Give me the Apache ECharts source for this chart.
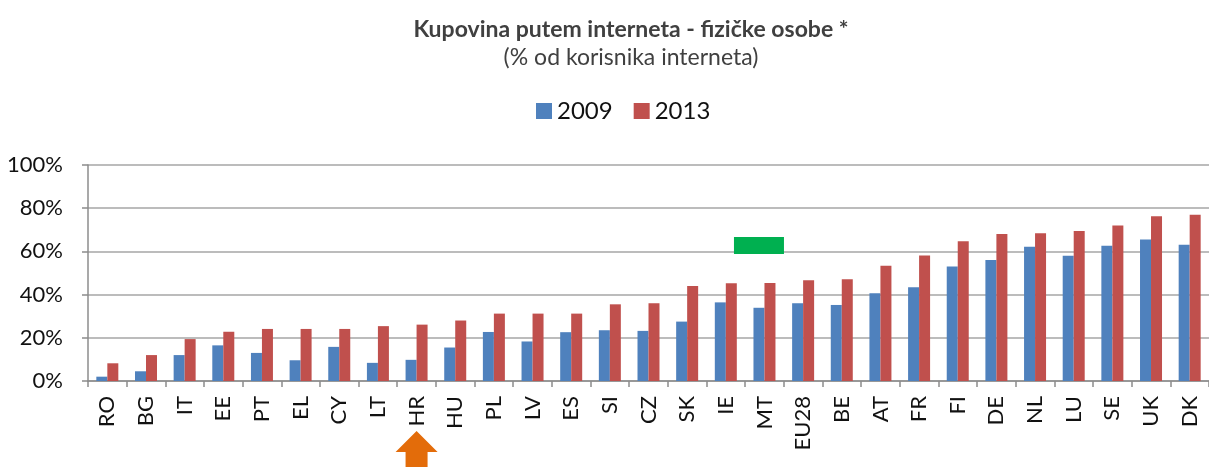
<!DOCTYPE html>
<html>
<head>
<meta charset="utf-8">
<script src="https://cdn.jsdelivr.net/npm/echarts@6/dist/echarts.min.js"></script>
<style>
  html, body { margin: 0; padding: 0; background: #fff; }
  #chart { width: 1209px; height: 467px; }
</style>
</head>
<body>
<div id="chart"></div>
<script>
// DATA
var countries = ['RO','BG','IT','EE','PT','EL','CY','LT','HR','HU','PL','LV','ES','SI','CZ','SK','IE','MT','EU28','BE','AT','FR','FI','DE','NL','LU','SE','UK','DK']
var values2009 = [2, 4.5, 12, 16.5, 13, 9.6, 15.8, 8.4, 9.8, 15.5, 22.7, 18.3, 22.6, 23.5, 23.2, 27.5, 36.4, 33.9, 36, 35.2, 40.6, 43.4, 53, 56, 62.1, 58, 62.6, 65.5, 63.1]
var values2013 = [8.2, 12, 19.4, 22.8, 24.1, 24.1, 24.1, 25.4, 26.1, 28, 31.2, 31.2, 31.2, 35.5, 36, 44, 45.3, 45.4, 46.6, 47.1, 53.3, 58.1, 64.7, 68, 68.4, 69.5, 72, 76.3, 77]
var yTicks = [0, 20, 40, 60, 80, 100]
var highlightCountry = 'HR'
var markerCountry = 'MT'
var markerValue = 62.7

var FONT = 'Lato'
var chart = echarts.init(document.getElementById('chart'))

var option = {
    animation: false,
    textStyle: { fontFamily: FONT },
    title: {
        text: 'Kupovina putem interneta - fizičke osobe *',
        subtext: '(% od korisnika interneta)',
        left: 626,
        textAlign: 'center',
        top: 13,
        itemGap: 5,
        textStyle: { fontFamily: FONT, fontSize: 23, fontWeight: 'bold', color: '#404040' },
        subtextStyle: { fontFamily: FONT, fontSize: 23, color: '#404040' }
    },
    legend: {
        data: ['2009', '2013'],
        top: 94,
        left: 531,
        itemWidth: 16,
        itemHeight: 16,
        itemGap: 21,
        icon: 'rect',
        textStyle: { fontFamily: FONT, fontSize: 24, color: '#111' }
    },
    grid: { left: 88, right: 0, top: 165, bottom: 86 },
    xAxis: {
        type: 'category',
        data: countries,
        axisLine: { lineStyle: { color: '#8c8c8c', width: 1.5 } },
        axisTick: { show: true, length: 6, lineStyle: { color: '#8c8c8c', width: 1.5 } },
        axisLabel: { rotate: 90, fontSize: 22, color: '#111', margin: 15, interval: 0, fontFamily: FONT }
    },
    yAxis: {
        type: 'value',
        min: yTicks[0],
        max: yTicks[yTicks.length - 1],
        interval: 20,
        axisLine: { show: true, lineStyle: { color: '#8c8c8c', width: 1.5 } },
        axisTick: { show: true, length: 6, lineStyle: { color: '#8c8c8c', width: 1.5 } },
        splitLine: { lineStyle: { color: '#a6a6a6', width: 1.5 } },
        axisLabel: { formatter: '{value}%', fontSize: 22, color: '#111', margin: 25, fontFamily: FONT }
    },
    series: [
        {
            name: '2009',
            type: 'bar',
            data: values2009,
            barWidth: 11,
            barGap: '0%',
            itemStyle: { color: '#4F81BD' }
        },
        {
            name: '2013',
            type: 'bar',
            data: values2013,
            barWidth: 11,
            barGap: '0%',
            itemStyle: { color: '#C0504D' },
            markPoint: {
                silent: true,
                data: [{
                    coord: [markerCountry, markerValue],
                    symbol: 'rect',
                    symbolSize: [50, 17],
                    symbolOffset: [-11, 0],
                    itemStyle: { color: '#00B050' },
                    label: { show: false }
                }]
            }
        }
    ]
}
chart.setOption(option)

// orange arrow under the highlighted country
var ax = chart.convertToPixel({ xAxisIndex: 0 }, highlightCountry)
chart.setOption({
    graphic: [{
        type: 'polygon',
        shape: {
            points: [[ax, 431], [ax + 21, 452], [ax + 11, 452], [ax + 11, 470], [ax - 11, 470], [ax - 11, 452], [ax - 21, 452]]
        },
        style: { fill: '#E36C0A' }
    }]
})
</script>
</body>
</html>
